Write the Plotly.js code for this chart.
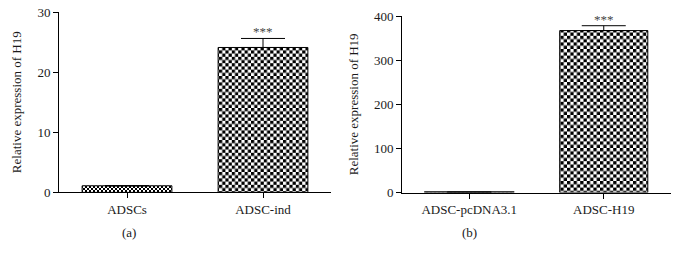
<!DOCTYPE html>
<html>
<head>
<meta charset="utf-8">
<script src="https://cdn.plot.ly/plotly-3.0.1.min.js"></script>
<style>html,body{margin:0;padding:0;background:#fff;}#chart{width:680px;height:261px;}</style>
</head>
<body>
<div id="chart"></div>
<script>
// Panel (a)
var catsA = ['ADSCs', 'ADSC-ind'];
var valsA = [1.1, 24.1];
var errA = [0, 1.5];
var sigA = ['', '***'];
var ticksA = [0, 10, 20, 30];
// Panel (b)
var catsB = ['ADSC-pcDNA3.1', 'ADSC-H19'];
var valsB = [1.0, 367];
var errB = [0, 11];
var sigB = ['', '***'];
var ticksB = [0, 100, 200, 300, 400];
var panelLabels = ['(a)', '(b)'];

var FONT = '"Liberation Serif", "Times New Roman", serif';
var TXT = '#1a1a1a';
function errArr(e){ return e.map(function(v){ return v > 0 ? v : NaN; }); }

var traceA = {
  type: 'bar', x: catsA, y: valsA, xaxis: 'x', yaxis: 'y',
  width: 0.66,
  marker: {color: 'white', line: {color: 'black', width: 1},
    pattern: {shape: '.', fgcolor: 'black', bgcolor: 'white', size: [4, 6.4], solidity: 0.5}},
  error_y: {type: 'data', symmetric: false, array: errArr(errA), arrayminus: [0, 0], color: 'black', thickness: 1, width: 22},
  hoverinfo: 'none', showlegend: false
};
var traceB = {
  type: 'bar', x: catsB, y: valsB, xaxis: 'x2', yaxis: 'y2',
  width: 0.655,
  marker: {color: 'black', line: {color: 'black', width: [2, 1]},
    pattern: {shape: '.', fgcolor: 'black', bgcolor: 'white', size: [4, 6.6], solidity: 0.5}},
  error_y: {type: 'data', symmetric: false, array: errArr(errB), arrayminus: [0, 0], color: 'black', thickness: 1, width: 22},
  hoverinfo: 'none', showlegend: false
};

var axX = {showgrid: false, zeroline: false, showline: true, linecolor: 'black', linewidth: 1,
  ticks: 'outside', ticklen: 5, tickwidth: 1, tickcolor: 'black',
  tickfont: {family: FONT, size: 13, color: TXT}, range: [-0.5, 1.5], fixedrange: true};
var axY = {showgrid: false, zeroline: false, showline: true, linecolor: 'black', linewidth: 1,
  ticks: 'outside', ticklen: 5, tickwidth: 1, tickcolor: 'black',
  tickfont: {family: FONT, size: 13, color: TXT},
  title: {text: 'Relative expression of H19', font: {family: FONT, size: 13, color: TXT}, standoff: 12}};

function annSig(cats, vals, errs, sig, xr, yr){
  var out = [];
  for (var i = 0; i < cats.length; i++) {
    if (!sig[i]) continue;
    out.push({x: cats[i], y: vals[i] + errs[i], xref: xr, yref: yr, text: sig[i], showarrow: false,
      yanchor: 'bottom', yshift: -3, font: {family: FONT, size: 13, color: '#444'}});
  }
  return out;
}

var layout = {
  width: 680, height: 261,
  margin: {l: 0, r: 0, t: 0, b: 0},
  paper_bgcolor: 'white', plot_bgcolor: 'white',
  showlegend: false,
  xaxis: Object.assign({}, axX, {domain: [59/680, 331/680], anchor: 'y'}),
  yaxis: Object.assign({}, axY, {domain: [1 - 192.4/261, 1 - 12/261], range: [0, 30], tickvals: ticksA, anchor: 'x'}),
  xaxis2: Object.assign({}, axX, {domain: [402/680, 671/680], anchor: 'y2'}),
  yaxis2: Object.assign({}, axY, {domain: [1 - 192.6/261, 1 - 16/261], range: [0, 400], tickvals: ticksB, anchor: 'x2'}),
  annotations: annSig(catsA, valsA, errA, sigA, 'x', 'y')
    .concat(annSig(catsB, valsB, errB, sigB, 'x2', 'y2'))
    .concat([
      {x: 129/680, y: 1 - 232/261, xref: 'paper', yref: 'paper', text: panelLabels[0], showarrow: false,
        xanchor: 'center', yanchor: 'middle', font: {family: FONT, size: 13, color: TXT}},
      {x: 469/680, y: 1 - 232/261, xref: 'paper', yref: 'paper', text: panelLabels[1], showarrow: false,
        xanchor: 'center', yanchor: 'middle', font: {family: FONT, size: 13, color: TXT}}
    ])
};

// Turn Plotly's dot fill patterns into checkerboard tiles (same tile size).
function checkerize(gd){
  var NS = 'http://www.w3.org/2000/svg';
  var pats = gd.querySelectorAll('pattern');
  pats.forEach(function(p){
    var w = parseFloat(p.getAttribute('width'));
    var h = parseFloat(p.getAttribute('height'));
    if (!(w > 0 && h > 0)) return;
    while (p.firstChild) p.removeChild(p.firstChild);
    function rect(x, y, rw, rh, fill){
      var r = document.createElementNS(NS, 'rect');
      r.setAttribute('x', x); r.setAttribute('y', y);
      r.setAttribute('width', rw); r.setAttribute('height', rh);
      r.setAttribute('fill', fill);
      p.appendChild(r);
    }
    rect(0, 0, w, h, 'white');
    rect(0, 0, w/2, h/2, 'black');
    rect(w/2, h/2, w/2, h/2, 'black');
  });
}

Plotly.newPlot('chart', [traceA, traceB], layout, {displayModeBar: false, staticPlot: true})
  .then(checkerize);
</script>
</body>
</html>
